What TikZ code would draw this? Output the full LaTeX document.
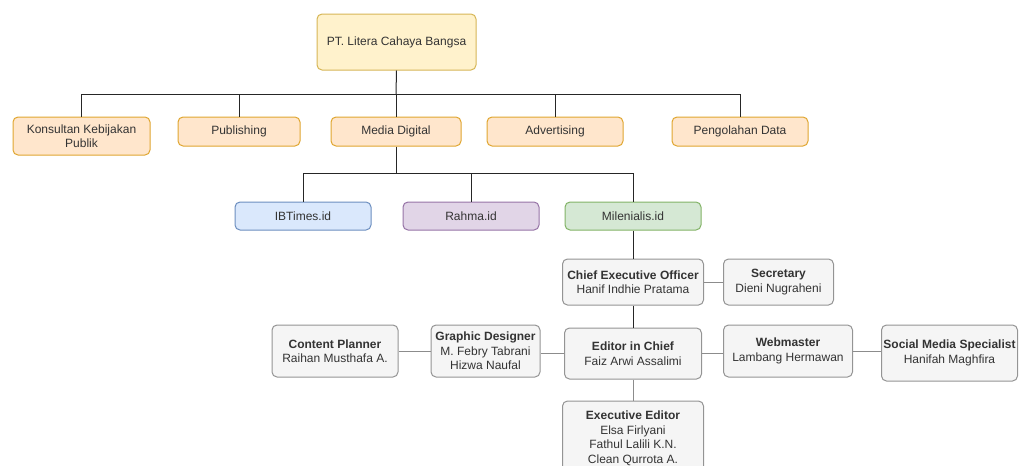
\documentclass[tikz,border=0pt]{standalone}
\usepackage{fontspec}
\setmainfont{Liberation Sans}
\usetikzlibrary{positioning}

\definecolor{ylwfill}{HTML}{FFF2CC}
\definecolor{ylwline}{HTML}{D6B656}
\definecolor{orgfill}{HTML}{FFE6CC}
\definecolor{orgline}{HTML}{E0A630}
\definecolor{bluefill}{HTML}{DAE8FC}
\definecolor{blueline}{HTML}{6C8EBF}
\definecolor{purfill}{HTML}{E1D5E7}
\definecolor{purline}{HTML}{9673A6}
\definecolor{grnfill}{HTML}{D5E8D4}
\definecolor{grnline}{HTML}{82B366}
\definecolor{grayfill}{HTML}{F5F5F5}
\definecolor{grayline}{HTML}{666666}
\definecolor{txtgray}{HTML}{333333}

\tikzset{
  box/.style={draw, rounded corners=5pt, line width=1pt, inner xsep=1pt,
    inner ysep=2pt, align=center, text=txtgray,
    font=\fontsize{12}{14.5}\selectfont},
  company/.style={box, fill=ylwfill, draw=ylwline},
  unit/.style={box, fill=orgfill, draw=orgline, minimum height=29pt},
  media/.style={box, minimum width=136pt, minimum height=28pt},
  staff/.style={box, fill=grayfill, draw=grayline!70},
  tree/.style={draw=black!85, line width=1pt},
  side/.style={draw=black!45, line width=1pt}
}

\begin{document}
\begin{tikzpicture}[x=1pt, y=-1pt]
  \useasboundingbox (0,0) rectangle (1029,466);

  % Company
  \node [company, minimum width=159pt, minimum height=56pt] (root) at (396.5,42)
  {PT. Litera Cahaya Bangsa};%

  % Units
  \node [unit, minimum width=137pt, minimum height=38pt] (kon) at (81.5,136)
  {Konsultan Kebijakan\\Publik};%
  \node [unit, minimum width=122pt] (pub) at (239,131.5) {Publishing};%
  \node [unit, minimum width=130pt] (md) at (396,131.5) {Media Digital};%
  \node [unit, minimum width=136pt] (adv) at (555,131.5) {Advertising};%
  \node [unit, minimum width=136pt] (pd) at (740,131.5) {Pengolahan Data};%

  % Media
  \node [media, fill=bluefill, draw=blueline] (ibt) at (303,216) {IBTimes.id};%
  \node [media, fill=purfill, draw=purline] (rah) at (471,216) {Rahma.id};%
  \node [media, fill=grnfill, draw=grnline] (mil) at (633,216) {Milenialis.id};%

  % Milenialis.id staff
  \node [staff, minimum width=141pt, minimum height=46pt, below=28pt of mil]
  (ceo) {\textbf{Chief Executive Officer}\\Hanif Indhie Pratama};%
  \node [staff, minimum width=110pt, minimum height=46pt, right=19pt of ceo]
  (sec) {\textbf{Secretary}\\Dieni Nugraheni};%
  \node [staff, minimum width=137pt, minimum height=51pt, below=22pt of ceo]
  (eic) {\textbf{Editor in Chief}\\Faiz Arwi Assalimi};%
  \node [staff, minimum width=109pt, minimum height=52pt, left=23.5pt of eic,
  yshift=2.5pt] (gd) {\textbf{Graphic Designer}\\M. Febry Tabrani\\Hizwa Naufal};%
  \node [staff, minimum width=126pt, minimum height=52pt, left=32pt of gd]
  (cp) {\textbf{Content Planner}\\Raihan Musthafa A.};%
  \node [staff, minimum width=129pt, minimum height=52pt, right=21pt of eic,
  yshift=2.5pt] (web) {\textbf{Webmaster}\\Lambang Hermawan};%
  \node [staff, minimum width=136pt, minimum height=56pt, right=28pt of web,
  yshift=-2pt] (smm) {\textbf{Social Media Specialist}\\Hanifah Maghfira};%
  \node [staff, minimum width=141pt, minimum height=75pt, below=21pt of eic]
  (ee) {\textbf{Executive Editor}\\Elsa Firlyani\\Fathul Lalili K.N.\\Clean
    Qurrota A.};%

  % connectors
  \coordinate (bus1) at (396,94);%
  \coordinate (bus2) at (396,173);%
  \draw [tree] (root.south) -- (bus1);%
  \draw [tree] (kon.north) |- (bus1);%
  \draw [tree] (pub.north) |- (bus1);%
  \draw [tree] (md.north) -- (bus1);%
  \draw [tree] (adv.north) |- (bus1);%
  \draw [tree] (pd.north) |- (bus1);%
  \draw [tree] (md.south) -- (bus2);%
  \draw [tree] (ibt.north) |- (bus2);%
  \draw [tree] (rah.north) |- (bus2);%
  \draw [tree] (mil.north) |- (bus2);%
  \draw [tree] (mil.south) -- (ceo.north);%
  \draw [tree] (ceo.south) -- (eic.north);%
  \draw [side] (eic.south) -- (ee.north);%
  \draw [side] (ceo.east) -- (sec.west);%
  \draw [side] (eic.west) -- (gd.east |- eic.west);%
  \draw [side] (gd.west) -- (cp.east);%
  \draw [side] (eic.east) -- (web.west |- eic.east);%
  \draw [side] (web.east) -- (smm.west |- web.east);%
\end{tikzpicture}
\end{document}
